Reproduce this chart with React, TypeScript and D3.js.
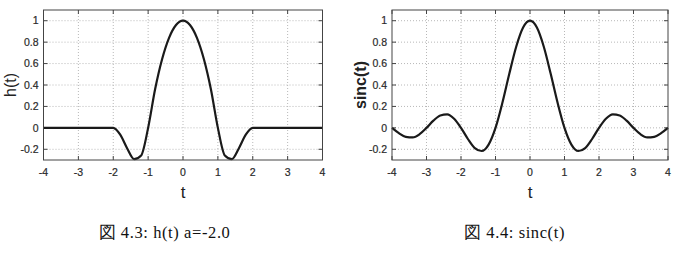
import * as d3 from "d3";
import React from "react";

// sample positions (t) read along the horizontal axis
const tSamples = [
  -4, -3.8, -3.6, -3.4, -3.2, -3, -2.8, -2.6, -2.4, -2.2, -2, -1.8, -1.6, -1.4, -1.2, -1,
  -0.8, -0.6, -0.4, -0.2, 0, 0.2, 0.4, 0.6, 0.8, 1, 1.2, 1.4, 1.6, 1.8, 2, 2.2, 2.4, 2.6,
  2.8, 3, 3.2, 3.4, 3.6, 3.8, 4,
];

// h(t), a = -2.0 (left figure)
const hValues = [
  0, 0, 0, 0, 0, 0, 0, 0, 0, 0, 0, -0.064, -0.192, -0.292, -0.258, 0,
  0.36, 0.64, 0.84, 0.96, 1, 0.96, 0.84, 0.64, 0.36, 0, -0.258, -0.292, -0.192, -0.064, 0, 0, 0, 0,
  0, 0, 0, 0, 0, 0, 0,
];

// sinc(t) (right figure)
const sincValues = [
  0, -0.049, -0.084, -0.089, -0.059, 0, 0.067, 0.116, 0.126, 0.085, 0, -0.104, -0.189, -0.216, -0.156, 0,
  0.234, 0.505, 0.757, 0.936, 1, 0.936, 0.757, 0.505, 0.234, 0, -0.156, -0.216, -0.189, -0.104, 0, 0.085, 0.126, 0.116,
  0.067, 0, -0.059, -0.089, -0.084, -0.049, 0,
];

const xTicks = [-4, -3, -2, -1, 0, 1, 2, 3, 4];
const yTicks = [-0.2, 0, 0.2, 0.4, 0.6, 0.8, 1];

const sans = "'Liberation Sans', Arial, sans-serif";
const serif = "'Liberation Serif', 'Times New Roman', serif";

type PlotProps = {
  left: number;
  right: number;
  top: number;
  bottom: number;
  values: number[];
  yLabel: string;
  yLabelX: number;
  yLabelBold: boolean;
};

function Plot({ left, right, top, bottom, values, yLabel, yLabelX, yLabelBold }: PlotProps) {
  const x = d3.scaleLinear().domain([-4, 4]).range([left, right]);
  const y = d3.scaleLinear().domain([-0.3, 1.1]).range([bottom, top]);

  const line = d3
    .line<number>()
    .x((_d, i) => x(tSamples[i]))
    .y((d) => y(d))
    .curve(d3.curveMonotoneX);

  const tickLen = 4;

  return (
    <g>
      {/* dotted grid */}
      <g stroke="#b8b8b8" strokeWidth={1} strokeDasharray="1,2">
        {xTicks.slice(1, -1).map((t) => (
          <line key={"gx" + t} x1={x(t)} x2={x(t)} y1={top} y2={bottom} />
        ))}
        {yTicks.map((t) => (
          <line key={"gy" + t} x1={left} x2={right} y1={y(t)} y2={y(t)} />
        ))}
      </g>

      {/* inward ticks on all four sides */}
      <g stroke="#444" strokeWidth={1}>
        {xTicks.map((t) => (
          <g key={"tx" + t}>
            <line x1={x(t)} x2={x(t)} y1={bottom} y2={bottom - tickLen} />
            <line x1={x(t)} x2={x(t)} y1={top} y2={top + tickLen} />
          </g>
        ))}
        {yTicks.map((t) => (
          <g key={"ty" + t}>
            <line x1={left} x2={left + tickLen} y1={y(t)} y2={y(t)} />
            <line x1={right} x2={right - tickLen} y1={y(t)} y2={y(t)} />
          </g>
        ))}
      </g>

      <path d={line(values) ?? ""} fill="none" stroke="#1a1a1a" strokeWidth={2.2} />

      <rect x={left} y={top} width={right - left} height={bottom - top} fill="none" stroke="#444" strokeWidth={1} />

      {/* tick labels */}
      <g fontFamily={sans} fontSize={10.5} fill="#2a2a2a" stroke="#2a2a2a" strokeWidth={0.2}>
        {xTicks.map((t) => (
          <text key={"lx" + t} x={x(t)} y={bottom + 16} textAnchor="middle">
            {t}
          </text>
        ))}
        {yTicks.map((t) => (
          <text key={"ly" + t} x={left - 5} y={y(t)} dy="0.35em" textAnchor="end">
            {t}
          </text>
        ))}
      </g>

      <text
        x={(left + right) / 2}
        y={198}
        textAnchor="middle"
        fontFamily={sans}
        fontSize={17}
        fill="#222"
      >
        t
      </text>
      <text
        transform={`translate(${yLabelX},${(top + bottom) / 2}) rotate(-90)`}
        textAnchor="middle"
        dy="0.35em"
        fontFamily={sans}
        fontSize={16}
        fontWeight={yLabelBold ? "bold" : "normal"}
        fill="#222"
      >
        {yLabel}
      </text>
    </g>
  );
}

export default function App() {
  return (
    <svg
      width={674}
      height={269}
      style={{ position: "absolute", left: 0, top: 0, background: "#fff" }}
    >
      <rect width={674} height={269} fill="#fff" />
      <Plot left={43.5} right={322.5} top={10} bottom={160} values={hValues} yLabel="h(t)" yLabelX={10} yLabelBold={false} />
      <Plot left={392} right={668} top={10} bottom={160} values={sincValues} yLabel="sinc(t)" yLabelX={360} yLabelBold={true} />

      <text x={164.5} y={238} textAnchor="middle" fontFamily={serif} fontSize={16.5} letterSpacing={0.6} fill="#111">
        図 4.3: h(t) a=-2.0
      </text>
      <text x={514.5} y={238} textAnchor="middle" fontFamily={serif} fontSize={16.5} letterSpacing={0.6} fill="#111">
        図 4.4: sinc(t)
      </text>
    </svg>
  );
}
